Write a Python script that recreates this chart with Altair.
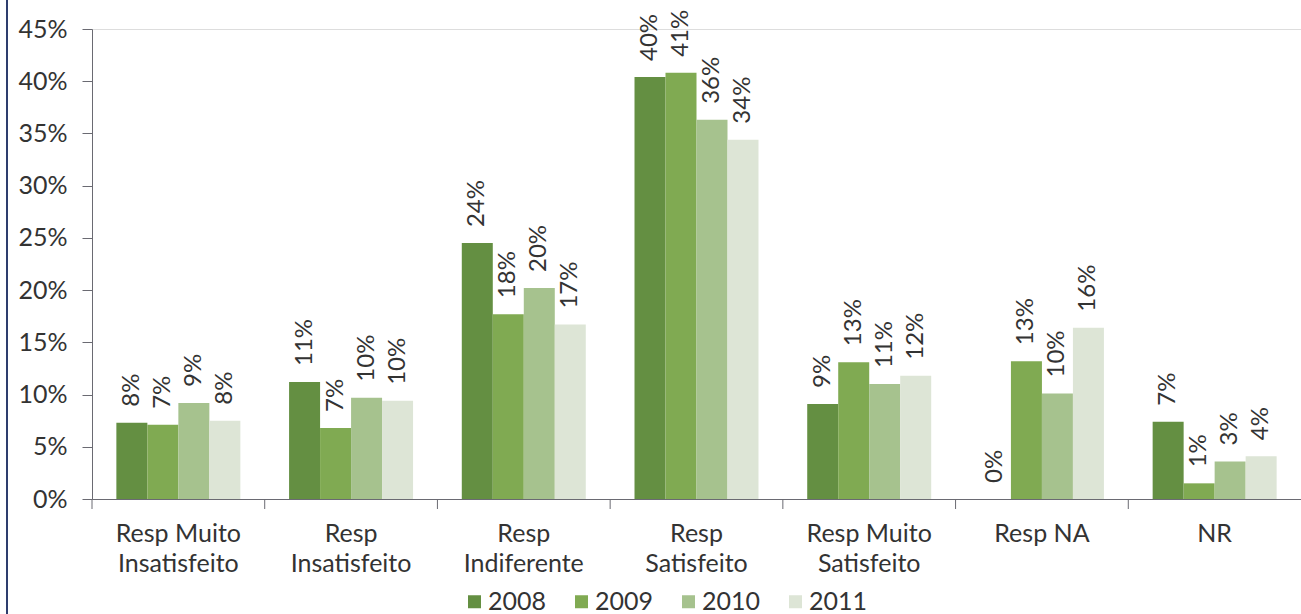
import altair as alt
import pandas as pd

categories = ["Resp Muito Insatisfeito", "Resp Insatisfeito", "Resp Indiferente",
              "Resp Satisfeito", "Resp Muito Satisfeito", "Resp NA", "NR"]
label_lines = {
    "Resp Muito Insatisfeito": ["Resp Muito", "Insatisfeito"],
    "Resp Insatisfeito": ["Resp", "Insatisfeito"],
    "Resp Indiferente": ["Resp", "Indiferente"],
    "Resp Satisfeito": ["Resp", "Satisfeito"],
    "Resp Muito Satisfeito": ["Resp Muito", "Satisfeito"],
    "Resp NA": ["Resp NA"],
    "NR": ["NR"],
}
years = ["2008", "2009", "2010", "2011"]
colors = ["#648f42", "#80aa52", "#a6c28e", "#dde5d6"]

v2008 = [7.3, 11.2, 24.5, 40.4, 9.1, 0.0, 7.4]
v2009 = [7.1, 6.8, 17.7, 40.8, 13.1, 13.2, 1.5]
v2010 = [9.2, 9.7, 20.2, 36.3, 11.0, 10.1, 3.6]
v2011 = [7.5, 9.4, 16.7, 34.4, 11.8, 16.4, 4.1]

l2008 = ["8%", "11%", "24%", "40%", "9%", "0%", "7%"]
l2009 = ["7%", "7%", "18%", "41%", "13%", "13%", "1%"]
l2010 = ["9%", "10%", "20%", "36%", "11%", "10%", "3%"]
l2011 = ["8%", "10%", "17%", "34%", "12%", "16%", "4%"]

y_ticks = [0, 0.05, 0.10, 0.15, 0.20, 0.25, 0.30, 0.35, 0.40, 0.45]

rows = []
for yr, vals, labs in zip(years, [v2008, v2009, v2010, v2011], [l2008, l2009, l2010, l2011]):
    for c, v, l in zip(categories, vals, labs):
        rows.append({"cat": c, "year": yr, "value": v / 100.0, "label": l})
df = pd.DataFrame(rows)
cat_df = pd.DataFrame({"cat": categories})

# label expression for multi-line category labels
expr = "datum.label"
for k, lines in label_lines.items():
    arr = "[" + ",".join("'" + s + "'" for s in lines) + "]"
    expr = f"datum.label == '{k}' ? {arr} : ({expr})"

FONT = "Lato"
TXT = "#333333"
AX = "#6a6a72"
W, H = 1209, 470

x_enc = alt.X("cat:N", sort=categories, title=None,
              scale=alt.Scale(paddingInner=0, paddingOuter=0),
              axis=alt.Axis(labelExpr=expr, labelAngle=0, ticks=False,
                            labelPadding=22, labelFontSize=25, labelFont=FONT,
                            labelColor=TXT, labelLineHeight=30, labelBaseline="top",
                            domainColor=AX, labelLimit=300))
xo_enc = alt.XOffset("year:N", sort=years,
                     scale=alt.Scale(paddingInner=0, paddingOuter=0.786))
y_enc = alt.Y("value:Q", title=None,
              scale=alt.Scale(domain=[0, 0.45], nice=False),
              axis=alt.Axis(values=y_ticks, format=".0%", tickSize=10, labelPadding=15,
                            labelFontSize=25, labelFont=FONT, labelColor=TXT,
                            domainColor=AX, tickColor=AX, grid=False))

bars = alt.Chart(df).mark_bar().encode(
    x=x_enc, xOffset=xo_enc, y=y_enc,
    color=alt.Color("year:N", sort=years,
                    scale=alt.Scale(domain=years, range=colors),
                    legend=alt.Legend(orient="none", legendX=370, legendY=560,
                                      direction="horizontal", title=None,
                                      symbolType="square", symbolSize=169,
                                      symbolStrokeWidth=0, labelFontSize=25,
                                      labelFont=FONT, labelColor=TXT,
                                      labelOffset=1, columnPadding=22)),
)

texts = alt.Chart(df).mark_text(angle=270, align="left", baseline="middle",
                                dx=16, fontSize=24, font=FONT, color=TXT).encode(
    x=alt.X("cat:N", sort=categories, title=None),
    xOffset=xo_enc,
    y=alt.Y("value:Q", title=None),
    text="label:N",
)

ticks = alt.Chart(cat_df).mark_rule(color=AX, strokeWidth=1).encode(
    x=alt.X("cat:N", sort=categories, bandPosition=0, title=None),
    y=alt.value(H), y2=alt.value(H + 10),
)

border = alt.Chart(cat_df).mark_rule(color="#2e3d6e", strokeWidth=2).encode(
    x=alt.value(-85), y=alt.value(-29), y2=alt.value(614 - 29),
)

chart = alt.layer(bars, texts, ticks, border).properties(
    width=W, height=H,
    autosize=alt.AutoSizeParams(type="none"),
    padding={"left": 92, "top": 29, "right": 0, "bottom": 614 - 29 - H},
).configure_view(stroke=None).configure(background="white")

chart.save("out.html", embed_options={"renderer": "svg", "actions": False})
